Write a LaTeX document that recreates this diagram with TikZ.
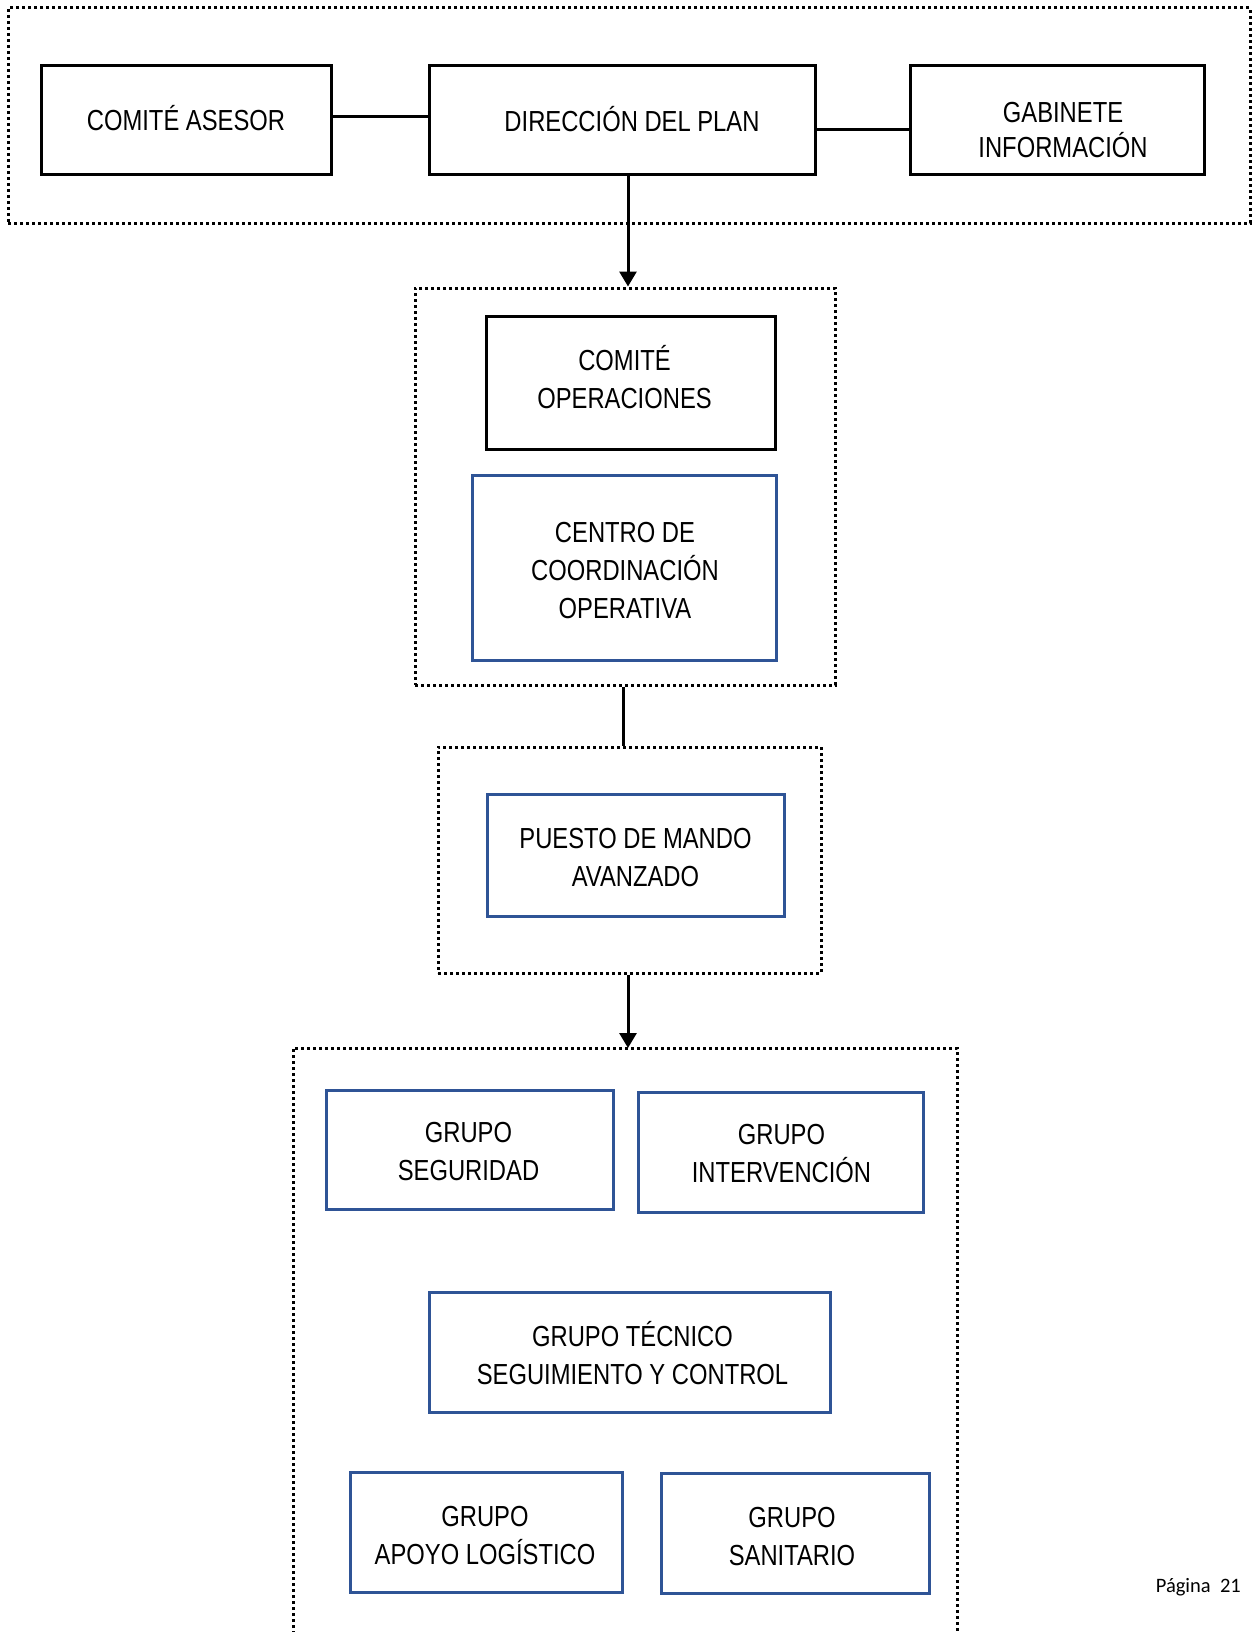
\documentclass[tikz,border=0pt]{standalone}
\usepackage{fontspec}
\setmainfont{Liberation Sans}[FakeStretch=0.82]
\newfontfamily\pagefont{Carlito}
\usetikzlibrary{arrows.meta,calc}
\definecolor{boxblue}{HTML}{2F5496}
\begin{document}
\begin{tikzpicture}[x=1pt,y=-1pt,
  box/.style={draw=black,line width=3pt,inner sep=0pt},
  bluebox/.style={box,draw=boxblue},
  txt/.style={inner sep=0pt,align=center,font=\fontsize{29}{38}\selectfont},
  txtb/.style={txt,font=\fontsize{29}{34.5}\selectfont},
  dotbox/.style={draw=black,line width=3pt,dash pattern=on 3pt off 3pt,inner sep=0pt},
  link/.style={line width=3pt},
  arr/.style={line width=3pt,-{Triangle[length=15pt,width=17pt]}}]
\useasboundingbox (0,0) rectangle (1252,1632);
% containers
\node[dotbox,minimum width=1242pt,minimum height=215pt] (b1) at (629,115.5) {};
\node[dotbox,minimum width=420pt,minimum height=397pt] (b2) at (625,486.5) {};
\node[dotbox,minimum width=383pt,minimum height=226pt] (b3) at (629.5,860) {};
\coordinate (b4tl) at (293,1048);
\coordinate (b4tr) at (957,1048);
\coordinate (b4bl) at (293,1640);
\coordinate (b4br) at (957,1640);
\draw[dotbox] (b4bl) -- (b4tl) -- (b4tr) -- (b4br);
% top row
\node[box,minimum width=290pt,minimum height=109pt] (ca) at (186,120.5) {};
\node[txt] (cat) at ([yshift=2pt]ca.center) {COMITÉ ASESOR};
\node[box,minimum width=386pt,minimum height=109pt] (dp) at (622,120.5) {};
\node[txt] (dpt) at ([xshift=10pt,yshift=1pt]dp.center) {DIRECCIÓN DEL PLAN};
\node[box,minimum width=294pt,minimum height=109pt] (gi) at (1057,120.5) {};
\node[txtb] (git) at ([xshift=6pt,yshift=-9.5pt]gi.center) {GABINETE\\INFORMACIÓN};
% second group
\node[box,minimum width=289pt,minimum height=133pt] (co) at (630.5,382.5) {};
\node[txt] (cot) at ([xshift=-6pt,yshift=5pt]co.center) {COMITÉ\\OPERACIONES};
\node[bluebox,minimum width=304pt,minimum height=185pt] (cc) at (624,567.5) {};
\node[txt] (cct) at ([xshift=1pt,yshift=-3pt]cc.center) {CENTRO DE\\COORDINACIÓN\\OPERATIVA};
% third group
\node[bluebox,minimum width=297pt,minimum height=122pt] (pm) at (635.5,855) {};
\node[txt] (pmt) at ([yshift=-2.5pt]pm.center) {PUESTO DE MANDO\\AVANZADO};
% groups
\node[bluebox,minimum width=287pt,minimum height=119pt] (gs) at (469.5,1149.5) {};
\node[txt] (gst) at ([xshift=-1pt,yshift=-2.5pt]gs.center) {GRUPO\\SEGURIDAD};
\node[bluebox,minimum width=285pt,minimum height=120pt] (gint) at (780.5,1152) {};
\node[txt] (gintt) at ([xshift=1pt,yshift=-2pt]gint.center) {GRUPO\\INTERVENCIÓN};
\node[bluebox,minimum width=401pt,minimum height=120pt] (gt) at (629.5,1352) {};
\node[txt] (gtt) at ([xshift=3pt,yshift=-1pt]gt.center) {GRUPO TÉCNICO\\SEGUIMIENTO Y CONTROL};
\node[bluebox,minimum width=272pt,minimum height=120pt] (ga) at (486,1532) {};
\node[txt] (gat) at ([xshift=-1pt,yshift=-3.5pt]ga.center) {GRUPO\\APOYO LOGÍSTICO};
\node[bluebox,minimum width=268pt,minimum height=120pt] (gsan) at (795,1533) {};
\node[txt] (gsant) at ([xshift=-3pt,yshift=-3.5pt]gsan.center) {GRUPO\\SANITARIO};
% connectors
\draw[link] ([yshift=3.5pt]ca.east) -- ([yshift=3.5pt]ca.east -| dp.west);
\draw[link] ([yshift=-9.5pt]dp.east) -- ([yshift=-9.5pt]dp.east -| gi.west);
\draw[arr] ([xshift=6pt]dp.south) -- ([xshift=6pt]dp.south |- b2.north);
\draw[link] ([xshift=-2pt]b2.south) -- ([xshift=-2pt]b2.south |- b3.north);
\draw[arr] ([xshift=-1.5pt]b3.south) -- ([xshift=-1.5pt]b3.south |- b4tl);
% page number
\node[font=\pagefont\fontsize{20.5}{24}\selectfont,anchor=base east,inner sep=0pt] (pg) at (1241,1592) {Página\ \ 21};
\end{tikzpicture}
\end{document}
